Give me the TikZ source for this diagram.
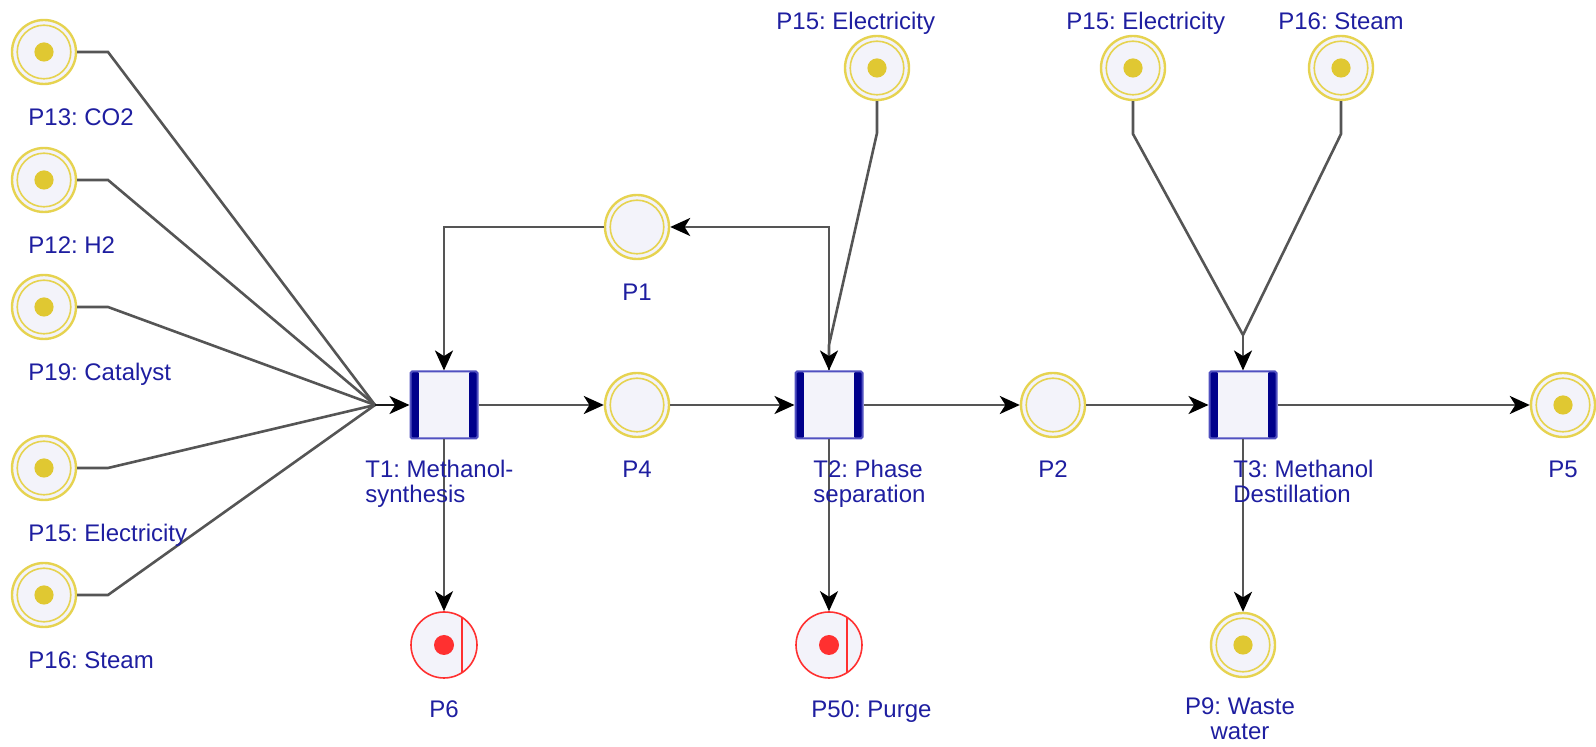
\documentclass[tikz,border=0pt]{standalone}
\usepackage{fontspec}
\setmainfont{Liberation Sans}
\usetikzlibrary{arrows.meta}
\frenchspacing
\definecolor{pfill}{HTML}{F3F3FA}
\definecolor{ringY}{HTML}{E6D350}
\definecolor{tokY}{HTML}{E0C832}
\definecolor{redP}{HTML}{FF3030}
\definecolor{tborder}{HTML}{5050C0}
\definecolor{tbar}{HTML}{00008B}
\definecolor{arcgray}{HTML}{555555}
\definecolor{txtblue}{HTML}{1E1EA0}
\begin{document}
\begin{tikzpicture}[x=0.5pt,y=-0.5pt,
  place/.style={circle, draw=ringY, line width=1.2pt, fill=pfill, minimum size=32pt, inner sep=0pt,
    path picture={\draw[ringY, line width=0.8pt] (path picture bounding box.center) circle (13.4pt);}},
  tplace/.style={place,
    path picture={\draw[ringY, line width=0.8pt] (path picture bounding box.center) circle (13.4pt);
      \fill[tokY] (path picture bounding box.center) circle (4.8pt);}},
  rplace/.style={circle, draw=redP, line width=0.8pt, fill=pfill, minimum size=33pt, inner sep=0pt,
    path picture={\fill[redP] (path picture bounding box.center) circle (5pt);
      \draw[redP, line width=0.8pt] ([xshift=9pt,yshift=-20pt]path picture bounding box.center) -- ++(0,40pt);}},
  trans/.style={rectangle, draw=tborder, line width=1pt, fill=pfill, minimum width=33.5pt, minimum height=33.5pt,
    inner sep=0pt, rounded corners=0.8pt,
    path picture={\fill[tbar] (path picture bounding box.north west) rectangle ([xshift=4.2pt]path picture bounding box.south west);
      \fill[tbar] (path picture bounding box.north east) rectangle ([xshift=-4.2pt]path picture bounding box.south east);}},
  arc/.style={draw=arcgray, line width=1.3pt},
  arr/.style={arc, -{Stealth[length=10pt,width=9pt,inset=2.8pt,color=black]}},
  lbl/.style={text=txtblue, font=\fontsize{12}{12.5}\selectfont, inner sep=0pt}
]
\useasboundingbox (0,0) rectangle (1596,747);
% places
\node[tplace] (p13) at (44,52) {};
\node[tplace] (p12) at (44,180) {};
\node[tplace] (p19) at (44,307) {};
\node[tplace] (p15a) at (44,468) {};
\node[tplace] (p16a) at (44,595) {};
\node[tplace] (p15b) at (877,68) {};
\node[tplace] (p15c) at (1133,68) {};
\node[tplace] (p16b) at (1341,68) {};
\node[place] (p1) at (637,227) {};
\node[place] (p4) at (637,405) {};
\node[place] (p2) at (1053,405) {};
\node[tplace] (p5) at (1563,405) {};
\node[tplace] (p9) at (1243,645) {};
\node[rplace] (p6) at (444,645) {};
\node[rplace] (p50) at (829,645) {};
% transitions
\node[trans] (t1) at (444,405) {};
\node[trans] (t2) at (829,405) {};
\node[trans] (t3) at (1243,405) {};
% junctions
\coordinate (conv) at (375,405);
\coordinate (tj) at (1243,335);
% arcs
\draw[arc] (p13) -- (108,52) -- (conv);
\draw[arc] (p12) -- (108,180) -- (conv);
\draw[arc] (p19) -- (108,307) -- (conv);
\draw[arc] (p15a) -- (108,468) -- (conv);
\draw[arc] (p16a) -- (108,595) -- (conv);
\draw[arr, draw=black!90] (conv) -- (t1);
\draw[arr] (t1) -- (p4);
\draw[arr] (p4) -- (t2);
\draw[arr] (t2) -- (p2);
\draw[arr] (p2) -- (t3);
\draw[arr] (t3) -- (p5);
\draw[arr] (t2) |- (p1);
\draw[arr] (p1) -| (t1);
\draw[arr] (t1) -- (p6);
\draw[arr] (t2) -- (p50);
\draw[arr] (t3) -- (p9);
\draw[arr] (p15b) -- (877,133) -- (829,345) -- (t2);
\draw[arc] (p15c) -- (1133,134) -- (tj);
\draw[arc] (p16b) -- (1341,134) -- (tj);
\draw[arr] (tj) -- (t3);
% labels
\node[lbl, anchor=base west] (l13) at (28,126) {P13: CO2};
\node[lbl, anchor=base west] (l12) at (28,254) {P12: H2};
\node[lbl, anchor=base west] (l19) at (28,381) {P19: Catalyst};
\node[lbl, anchor=base west] (l15a) at (28,542) {P15: Electricity};
\node[lbl, anchor=base west] (l16a) at (28,669) {P16: Steam};
\node[lbl, anchor=base west] (l15b) at (776,30) {P15: Electricity};
\node[lbl, anchor=base west] (l15c) at (1066,30) {P15: Electricity};
\node[lbl, anchor=base] (l16b) at (1341,30) {P16: Steam};
\node[lbl, anchor=base] (l1) at (637,301) {P1};
\node[lbl, anchor=base] (l4) at (637,478) {P4};
\node[lbl, anchor=base] (l2) at (1053,478) {P2};
\node[lbl, anchor=base] (l5) at (1563,478) {P5};
\node[lbl, anchor=base] (l6) at (444,718) {P6};
\node[lbl, anchor=base west] (l50) at (811,718) {P50: Purge};
\node[lbl, anchor=base] (l9) at (1240,715) {\begin{tabular}[t]{@{}c@{}}P9: Waste\\water\end{tabular}};
\node[lbl, anchor=base west] (lt1) at (365,478) {\begin{tabular}[t]{@{}l@{}}T1: Methanol-\\synthesis\end{tabular}};
\node[lbl, anchor=base west] (lt2) at (813,478) {\begin{tabular}[t]{@{}l@{}}T2: Phase\\separation\end{tabular}};
\node[lbl, anchor=base west] (lt3) at (1233,478) {\begin{tabular}[t]{@{}l@{}}T3: Methanol\\Destillation\end{tabular}};
\end{tikzpicture}
\end{document}
